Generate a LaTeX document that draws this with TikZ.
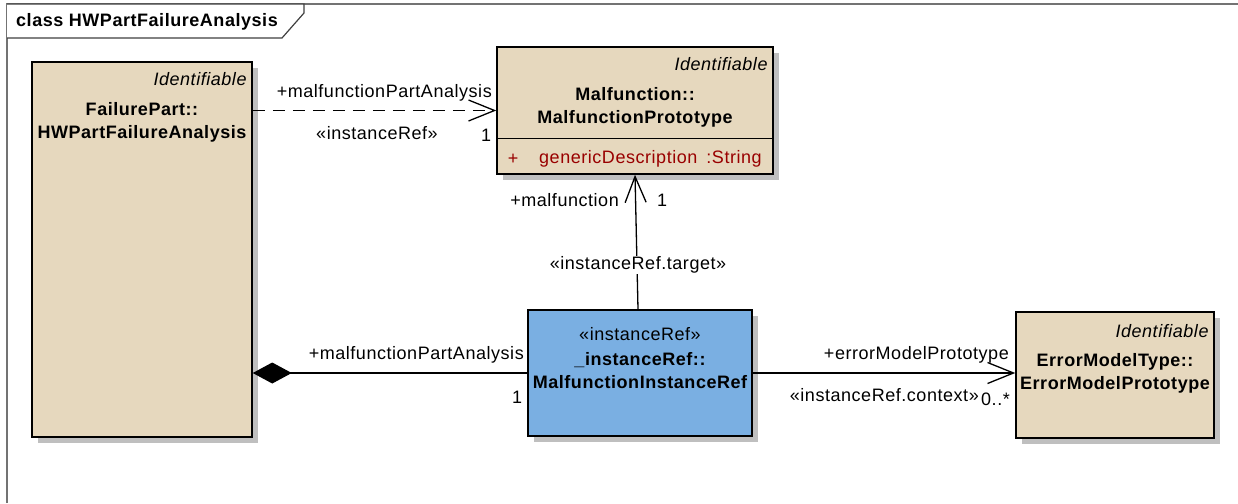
\documentclass[tikz,border=0pt]{standalone}
\usepackage{fontspec}
\setmainfont[LetterSpace=3]{Liberation Sans}
\usetikzlibrary{arrows.meta,positioning,calc,shadows}
\definecolor{clsfill}{RGB}{230,216,190}
\definecolor{reffill}{RGB}{122,175,226}
\definecolor{attr}{RGB}{153,0,0}
\colorlet{shd}{black!25}
\colorlet{frm}{black!55}
\tikzset{
  every node/.style={font=\fontsize{18}{23}\selectfont,inner sep=1pt},
  cls/.style={draw=black,line width=1.5pt,fill=clsfill,
    drop shadow={shadow xshift=6pt,shadow yshift=-6pt,fill=shd,opacity=1}},
  iref/.style={cls,fill=reffill},
  ster/.style={anchor=east,font=\fontsize{18}{23}\selectfont\itshape},
  cname/.style={align=center,font=\fontsize{18}{23}\selectfont\bfseries},
  rel/.style={line width=1.3pt},
  nav/.style={rel,-{Straight Barb[length=26pt,width=21pt]}},
  comp/.style={rel,{Diamond[length=39pt,width=21pt]}-},
  dep/.style={nav,dash pattern=on 12pt off 8pt},
  lab/.style={inner sep=1pt},
}

\begin{document}
\begin{tikzpicture}[x=1pt,y=1pt]
  \path[fill=white,use as bounding box] (0,0) rectangle (1238,-503);

  % diagram frame and title tab
  \draw[frm,line width=1.5pt] (7,-503) -- (7,-4) -- (1238,-4);
  \draw[black!75,line width=1.2pt,fill=white] (7,-4) -- (304,-4) -- (304,-13) -- (282,-38) -- (7,-38);
  \node[anchor=west,font=\fontsize{18}{23}\selectfont\bfseries] (ttl) at (15,-22) {class HWPartFailureAnalysis};

  % classes
  \node[cls,minimum width=220pt,minimum height=375pt] (fpa) at (142,-249.5) {};
  \node[ster] (fpa-st) at ([xshift=-5pt,yshift=-18pt]fpa.north east) {Identifiable};
  \node[cname] (fpa-nm) at ([yshift=-61pt]fpa.north) {FailurePart::\\HWPartFailureAnalysis};

  \node[cls,minimum width=276pt,minimum height=127pt] (mfp) at (635,-110.5) {};
  \node[ster] (mfp-st) at ([xshift=-5pt,yshift=-18pt]mfp.north east) {Identifiable};
  \node[cname] (mfp-nm) at ([yshift=-61pt]mfp.north) {Malfunction::\\MalfunctionPrototype};
  \draw[line width=1.2pt] ([yshift=-92pt]mfp.north west) -- ([yshift=-92pt]mfp.north east);
  \node[text=attr] (mfp-vis) at (513,-159) {+};
  \node[text=attr,anchor=west] (mfp-at) at (538,-159) {genericDescription\hspace{9pt}:String};

  \node[iref,minimum width=224pt,minimum height=126pt] (mir) at (640,-373) {};
  \node (mir-st) at ([yshift=-25pt]mir.north) {«instanceRef»};
  \node[cname] (mir-nm) at ([yshift=-61pt]mir.north) {\_instanceRef::\\MalfunctionInstanceRef};

  \node[cls,minimum width=198pt,minimum height=126pt] (emp) at (1115,-375) {};
  \node[ster] (emp-st) at ([xshift=-5pt,yshift=-20pt]emp.north east) {Identifiable};
  \node[cname] (emp-nm) at ([yshift=-62pt]emp.north) {ErrorModelType::\\ErrorModelPrototype};

  % relations
  \draw[dep] (mfp.west -| fpa.east) -- (mfp.west);
  \draw[nav] ([xshift=-2pt]mir.north) -- (mfp.south);
  \draw[comp] (mir.west -| fpa.east) -- (mir.west);
  \draw[nav] (mir.east) -- (mir.east -| emp.west);

  % role names and multiplicities
  \node[lab,anchor=east] (r1) at (493,-93) {+malfunctionPartAnalysis};
  \node[lab] (s1) at (377,-133) {«instanceRef»};
  \node[lab] (m1) at (486,-135) {1};
  \node[lab,anchor=east] (r2) at (620,-200) {+malfunction};
  \node[lab] (m2) at (662,-200) {1};
  \node[lab,fill=white] (s2) at (638,-265) {«instanceRef.target»};
  \node[lab,anchor=east] (r3) at (525,-355) {+malfunctionPartAnalysis};
  \node[lab] (m3) at (517,-397) {1};
  \node[lab,anchor=east] (r4) at (1010,-355) {+errorModelPrototype};
  \node[lab,anchor=east] (s3) at (980,-395) {«instanceRef.context»};
  \node[lab,anchor=west] (m4) at (980,-399) {0..*};
\end{tikzpicture}
\end{document}
